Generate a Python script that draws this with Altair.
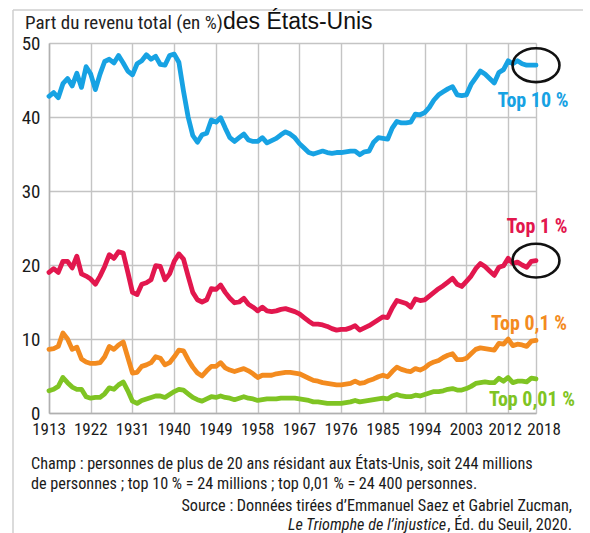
import altair as alt
import pandas as pd

years = list(range(1913, 2019))

top10 = [42.8, 43.3, 42.6, 44.5, 45.2, 44.2, 45.9, 44.0, 46.8, 45.8,
         43.7, 45.8, 47.5, 47.8, 47.3, 48.3, 47.3, 46.2, 45.7, 47.2,
         47.6, 48.4, 47.8, 48.2, 47.1, 47.0, 48.3, 48.5, 47.4, 43.5,
         40.0, 37.5, 36.6, 37.6, 37.8, 39.6, 39.3, 39.9, 38.5, 37.2,
         36.7, 37.2, 37.7, 36.9, 36.7, 36.7, 37.2, 36.5, 36.8, 37.1,
         37.6, 38.0, 37.7, 37.2, 36.4, 35.8, 35.2, 35.0, 35.2, 35.4,
         35.2, 35.1, 35.2, 35.2, 35.3, 35.4, 35.4, 34.9, 35.3, 35.4,
         36.6, 37.2, 37.1, 37.0, 38.5, 39.4, 39.2, 39.2, 39.3, 40.4,
         40.3, 40.6, 41.3, 42.3, 43.0, 43.4, 43.8, 44.1, 43.0, 42.9,
         43.0, 44.4, 45.3, 46.2, 45.8, 45.2, 44.6, 46.0, 46.4, 47.6,
         47.2, 47.6, 47.2, 47.0, 47.0, 47.0]

top1 = [19.0, 19.5, 19.0, 20.5, 20.5, 19.6, 21.2, 18.8, 18.5, 18.1,
        17.4, 18.5, 19.8, 21.4, 20.9, 21.8, 21.6, 19.0, 16.3, 16.0,
        17.4, 17.6, 18.0, 19.9, 19.8, 18.0, 18.8, 20.5, 21.5, 20.8,
        18.5, 16.3, 15.3, 15.0, 15.3, 16.8, 16.7, 17.3, 16.3, 15.5,
        14.9, 15.0, 15.5, 14.7, 14.3, 13.8, 14.3, 13.8, 13.7, 13.8,
        14.0, 14.1, 13.9, 13.7, 13.4, 12.9, 12.4, 12.0, 12.0, 11.9,
        11.7, 11.4, 11.2, 11.3, 11.3, 11.5, 11.8, 11.2, 11.5, 11.8,
        12.2, 12.6, 13.0, 12.9, 14.2, 15.2, 15.0, 14.8, 14.3, 15.4,
        15.2, 15.3, 15.8, 16.3, 16.8, 17.2, 17.7, 18.2, 17.4, 17.1,
        17.8, 18.5, 19.5, 20.2, 19.8, 19.2, 18.6, 19.7, 19.9, 20.9,
        20.2, 20.4, 20.0, 19.7, 20.5, 20.6]

top01 = [8.6, 8.7, 9.0, 10.8, 10.0, 8.6, 8.9, 7.3, 6.9, 6.7,
         6.7, 6.8, 7.6, 9.0, 8.6, 9.2, 9.6, 7.5, 5.4, 5.5,
         6.3, 6.5, 6.8, 7.6, 7.4, 6.5, 6.8, 7.6, 8.5, 8.4,
         7.2, 6.2, 5.4, 5.0, 5.7, 6.3, 6.3, 6.8, 6.1, 5.8,
         5.6, 5.8, 6.0, 5.7, 5.3, 4.8, 5.1, 5.1, 5.1, 5.3,
         5.4, 5.5, 5.5, 5.4, 5.3, 5.0, 4.7, 4.4, 4.3, 4.1,
         4.0, 3.9, 3.8, 3.8, 3.9, 4.0, 4.3, 4.0, 4.1, 4.4,
         4.6, 4.9, 5.1, 4.9, 5.6, 6.2, 5.9, 5.7, 5.6, 6.0,
         5.8, 6.1, 6.6, 6.9, 7.1, 7.5, 7.8, 8.0, 7.2, 7.2,
         7.4, 8.0, 8.6, 8.8, 8.7, 8.6, 8.5, 9.4, 9.3, 10.0,
         9.1, 9.3, 9.2, 9.0, 9.7, 9.8]

top001 = [3.0, 3.2, 3.6, 4.8, 4.1, 3.5, 3.2, 3.2, 2.2, 2.0,
          2.1, 2.1, 2.6, 3.4, 3.2, 3.8, 4.2, 3.0, 1.6, 1.3,
          1.7, 1.9, 2.1, 2.3, 2.3, 2.1, 2.5, 2.9, 3.2, 3.1,
          2.6, 2.1, 1.8, 1.6, 1.9, 2.2, 2.1, 2.3, 2.1, 2.0,
          1.8, 2.0, 2.2, 2.0, 1.9, 1.7, 1.8, 1.9, 1.9, 1.9,
          2.0, 2.0, 2.0, 2.0, 1.9, 1.8, 1.7, 1.5, 1.5, 1.4,
          1.3, 1.3, 1.3, 1.3, 1.4, 1.5, 1.7, 1.5, 1.6, 1.7,
          1.8, 1.9, 2.0, 1.9, 2.3, 2.5, 2.3, 2.2, 2.2, 2.4,
          2.3, 2.5, 2.7, 2.9, 2.9, 3.0, 3.2, 3.3, 3.1, 3.1,
          3.3, 3.6, 4.0, 4.1, 4.2, 4.1, 4.1, 4.7, 4.3, 4.8,
          4.1, 4.3, 4.3, 4.2, 4.7, 4.6]

series_names = ["Top 10 %", "Top 1 %", "Top 0,1 %", "Top 0,01 %"]
series_colors = ["#17a2e3", "#e2174e", "#f38b1f", "#7fc423"]
x_ticks = [1913, 1922, 1931, 1940, 1949, 1958, 1967, 1976, 1985, 1994, 2003, 2012, 2018]
y_ticks = [0, 10, 20, 30, 40, 50]

title_left = "Part du revenu total (en %)"
title_right = "des États-Unis"
note_1 = "Champ : personnes de plus de 20 ans résidant aux États-Unis, soit 244 millions"
note_2 = "de personnes ; top 10 % = 24 millions ; top 0,01 % = 24 400 personnes."
source_1 = "Source : Données tirées d’Emmanuel Saez et Gabriel Zucman,"
source_2_italic = "Le Triomphe de l’injustice"
source_2_rest = ", Éd. du Seuil, 2020."

NARROW = "'Roboto Condensed', 'Noto Sans Condensed', 'Liberation Sans Narrow', 'Liberation Sans', sans-serif"
W, H = 487, 370

rows = []
for name, vals in zip(series_names, [top10, top1, top01, top001]):
    for yr, v in zip(years, vals):
        rows.append({"year": yr, "value": v, "series": name})
df = pd.DataFrame(rows)

xscale = alt.Scale(domain=[1913, 2018], nice=False, zero=False)
yscale = alt.Scale(domain=[0, 50], nice=False)
cscale = alt.Scale(domain=series_names, range=series_colors)

base = alt.Chart(df)

lines = base.mark_line(strokeWidth=4.8, strokeJoin="round", strokeCap="round").encode(
    x=alt.X("year:Q", scale=xscale,
            axis=alt.Axis(values=x_ticks, format="d", title=None, grid=True,
                          gridColor="#c4c4c4", gridWidth=1.4, ticks=False,
                          domainColor="#b0b0b0", domainWidth=1.5, labels=False)),
    y=alt.Y("value:Q", scale=yscale,
            axis=alt.Axis(values=y_ticks, title=None, grid=True,
                          gridColor="#c4c4c4", gridWidth=1.4, ticks=False,
                          domainColor="#b0b0b0", domainWidth=1.5,
                          labelFont=NARROW, labelFontSize=19, labelColor="#1a1a1a",
                          labelPadding=9)),
    color=alt.Color("series:N", scale=cscale, legend=None),
    order="year:Q",
)

# x tick labels drawn as text so the two last ones can be nudged apart
tick_df = pd.DataFrame({"year": x_ticks, "label": [str(t) for t in x_ticks]})
xlab_style = dict(font=NARROW, fontSize=17, color="#1a1a1a", align="center", baseline="top")
xlab_main = alt.Chart(tick_df[tick_df["year"] < 2012]).mark_text(**xlab_style).encode(
    x=alt.X("year:Q", scale=xscale), y=alt.value(H + 9), text="label:N")
xlab_2012 = alt.Chart(tick_df[tick_df["year"] == 2012]).mark_text(dx=-3, **xlab_style).encode(
    x=alt.X("year:Q", scale=xscale), y=alt.value(H + 9), text="label:N")
xlab_2018 = alt.Chart(tick_df[tick_df["year"] == 2018]).mark_text(dx=8, **xlab_style).encode(
    x=alt.X("year:Q", scale=xscale), y=alt.value(H + 9), text="label:N")

# highlight ellipses around the latest values of top 10 % and top 1 %
last_df = df[(df["year"] == 2018) & (df["series"].isin(["Top 10 %", "Top 1 %"]))]
ellipse = alt.Chart(last_df).mark_point(
    shape="M -1 0 A 1 0.72 0 1 0 1 0 A 1 0.72 0 1 0 -1 0 Z",
    size=2200, filled=False, stroke="#111111", strokeWidth=2.6, opacity=1,
).encode(
    x=alt.X("year:Q", scale=xscale),
    y=alt.Y("value:Q", scale=yscale),
)

label_df = pd.DataFrame({
    "series": series_names,
    "px": [484, 488, 480, 483],
    "py": [64, 190, 287, 363],
})
labels = alt.Chart(label_df).mark_text(
    font=NARROW, fontSize=20, fontWeight="bold", align="center", baseline="alphabetic"
).encode(
    x=alt.X("px:Q", scale=None),
    y=alt.Y("py:Q", scale=None),
    text="series:N",
    color=alt.Color("series:N", scale=cscale, legend=None),
)

def txt(s, x, y, **kw):
    return alt.Chart(pd.DataFrame({"t": [s]})).mark_text(baseline="alphabetic", **kw).encode(
        x=alt.value(x), y=alt.value(y), text="t:N")

title_a = txt(title_left, -24, -14, font=NARROW, fontSize=19, color="#222222", align="left")
title_b = txt(title_right, 174, -14, font="'Liberation Sans', Arial, sans-serif", fontSize=23,
              color="#111111", align="left")
n1 = txt(note_1, -18, 426, font=NARROW, fontSize=16.2, color="#1a1a1a", align="left")
n2 = txt(note_2, -18, 446, font=NARROW, fontSize=16.2, color="#1a1a1a", align="left")
s1 = txt(source_1, 523, 468, font=NARROW, fontSize=16.2, color="#1a1a1a", align="right")
s2b = txt(source_2_rest, 523, 487, font=NARROW, fontSize=16.2, color="#1a1a1a", align="right")
s2a = txt(source_2_italic, 397, 487, font=NARROW, fontSize=16.2, color="#1a1a1a",
          align="right", fontStyle="italic")

frame_top = alt.Chart(pd.DataFrame({"a": [0]})).mark_rule(color="#cfcfcf", strokeWidth=1.5).encode(
    x=alt.value(-36), x2=alt.value(534), y=alt.value(-33))
frame_left = alt.Chart(pd.DataFrame({"a": [0]})).mark_rule(color="#cfcfcf", strokeWidth=1.5).encode(
    x=alt.value(-36), y=alt.value(-33), y2=alt.value(500))

chart = alt.layer(
    frame_top, frame_left, lines, ellipse, labels,
    xlab_main, xlab_2012, xlab_2018,
    title_a, title_b, n1, n2, s1, s2a, s2b,
).properties(
    width=W, height=H,
    autosize=alt.AutoSizeParams(type="none"),
    padding={"left": 49, "top": 43, "right": 590 - 49 - W, "bottom": 533 - 43 - H},
    background="white",
).configure_view(stroke=None)

chart.save("out.html", embed_options={"renderer": "svg", "actions": False})
